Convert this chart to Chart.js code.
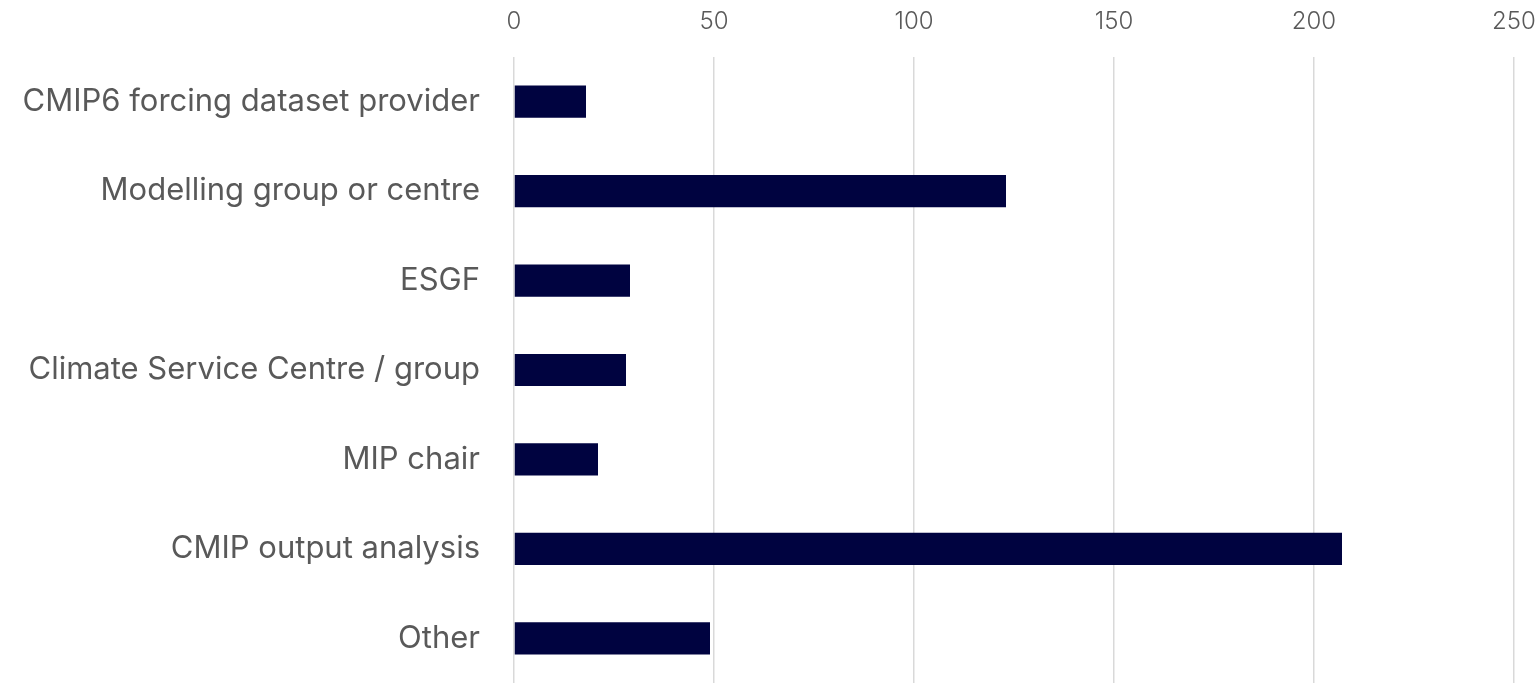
<!DOCTYPE html>
<html>
<head>
<meta charset="utf-8">
<script src="https://cdn.jsdelivr.net/npm/chart.js@4"></script>
<style>
  html, body { margin: 0; padding: 0; background: #fff; }
  #wrap { width: 1540px; height: 683px; }
</style>
</head>
<body>
<div id="wrap"><canvas id="roles" width="1540" height="683"></canvas></div>
<script>
// categorias y valores
const categorias = [
    "CMIP6 forcing dataset provider",
    "Modelling group or centre",
    "ESGF",
    "Climate Service Centre / group",
    "MIP chair",
    "CMIP output analysis",
    "Other"
];
const respuestas = [18, 123, 29, 28, 21, 207, 49];
const ejeMin = 0;
const ejeMax = 250;
const ejePaso = 50;

const ctx = document.getElementById("roles").getContext('2d');

const options = {
    responsive: false,
    animation: false,
    indexAxis: 'y',
    layout: {
        padding: { left: 10, right: 26, top: 0, bottom: 0 }
    },
    plugins: {
        legend: { display: false },
        tooltip: { enabled: false }
    },
    scales: {
        x: {
            position: 'top',
            min: ejeMin,
            max: ejeMax,
            ticks: {
                stepSize: ejePaso,
                color: '#595959',
                padding: 21,
                font: { family: 'Inter', size: 24, weight: 300 }
            },
            grid: {
                color: '#d9d9d9',
                lineWidth: 1.5,
                drawTicks: false
            },
            border: { display: false },
            afterFit: (scale) => {
                scale.height = 57;
                scale.paddingLeft = 0;
                scale.paddingRight = 0;
            }
        },
        y: {
            ticks: {
                color: '#595959',
                padding: 26,
                font: { family: 'Inter', size: 31, weight: 400 }
            },
            grid: { display: false },
            border: { display: false },
            afterFit: (scale) => {
                scale.width = 504;
                scale.paddingTop = 0;
                scale.paddingBottom = 0;
            }
        }
    }
};

const data = {
    labels: categorias,
    datasets: [{
        label: 'Respuestas',
        data: respuestas,
        backgroundColor: '#000340',
        borderWidth: 0,
        categoryPercentage: 1,
        barPercentage: 0.36
    }]
};

const myChart = new Chart(ctx, {
    type: 'bar',
    data: data,
    options: options
});
</script>
</body>
</html>
